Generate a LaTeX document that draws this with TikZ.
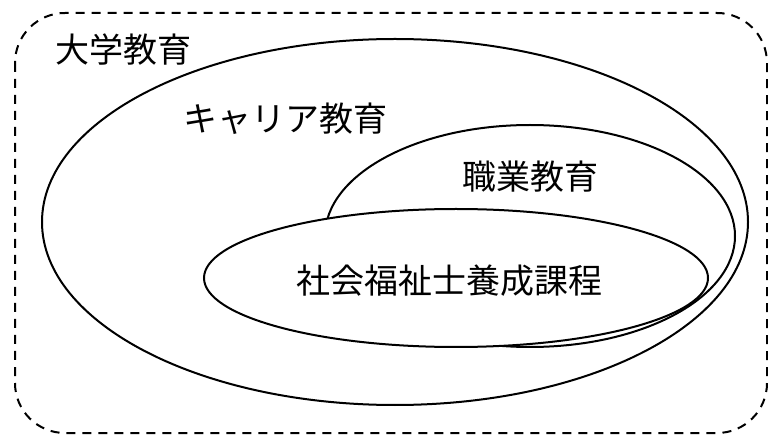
\documentclass[tikz,border=0pt]{standalone}
\usepackage{fontspec}
\newfontfamily\jpfont{Noto Sans CJK JP}
\begin{document}
\begin{tikzpicture}[x=1pt,y=-1pt,
  ring/.style={draw=black,line width=2pt},
  lbl/.style={font=\jpfont\fontsize{34}{40}\selectfont,inner sep=0pt}]
\useasboundingbox (0,0) rectangle (768,435);
\draw[line width=2pt,dash pattern=on 9pt off 7pt,rounded corners=50pt]
  (15,13) rectangle (767,433);
\draw[ring] (395,222) ellipse [x radius=353, y radius=183];
\draw[ring] (530,236) ellipse [x radius=205, y radius=111];
\draw[ring,fill=white] (456,278) ellipse [x radius=252, y radius=69];
\node[lbl] (univ) at (123,50) {大学教育};
\node[lbl] (career) at (285,119) {キャリア教育};
\node[lbl] (voc) at (530,177) {職業教育};
\node[lbl] (sw) at (449,281) {社会福祉士養成課程};
\end{tikzpicture}
\end{document}
